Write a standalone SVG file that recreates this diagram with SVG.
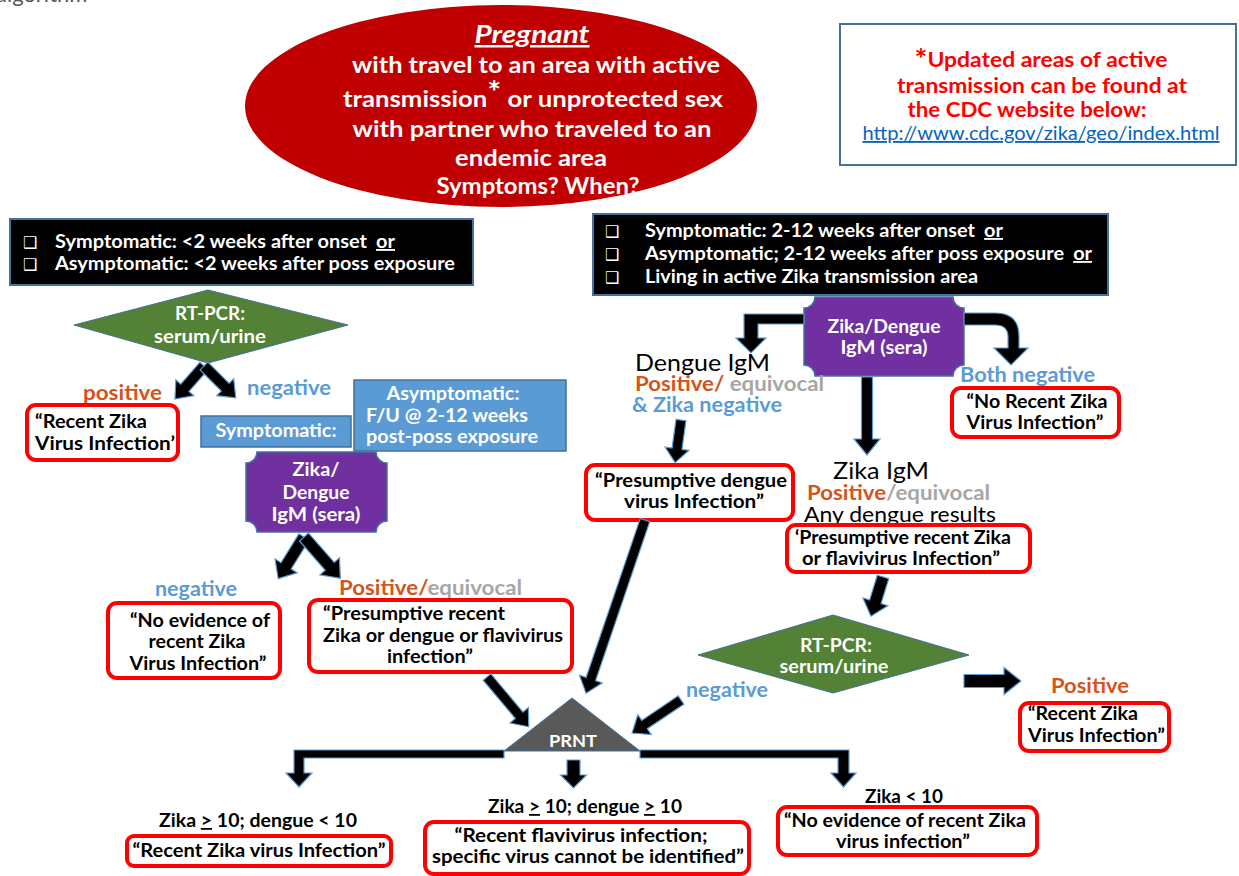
<svg xmlns="http://www.w3.org/2000/svg" width="1239" height="876" viewBox="0 0 1239 876">
<style>
text{font-family:Lato,"Liberation Sans",sans-serif;}
.w{fill:#fff;font-weight:bold;}
.k{fill:#000;font-weight:bold;}
.c{text-anchor:middle;}
.redbox{fill:#fff;stroke:#ff0000;stroke-width:4;}
.blk{fill:#000;stroke:#41719C;stroke-width:2;}
.blue{fill:#5B9BD5;stroke:#41719C;stroke-width:1.5;}
.purp{fill:#7030A0;stroke:#41719C;stroke-width:1.5;}
.grn{fill:#538135;stroke:#41719C;stroke-width:1;}
.arr{fill:#000;stroke:#5B9BD5;stroke-width:1.2;}
.lblue{fill:#5B9BD5;font-weight:bold;}
.lor{fill:#D4541B;font-weight:bold;}
.lgr{fill:#A6A6A6;font-weight:bold;}
.cb{font-family:"DejaVu Sans",sans-serif;fill:#fff;font-size:16px;}
</style>
<rect width="1239" height="876" fill="#fff"/>
<text x="-4" y="2" font-size="22" fill="#555" font-family="Open Sans,sans-serif">algorithm</text>

<g id="start">
<ellipse cx="501" cy="106" rx="256" ry="101" fill="#C00000"/>
<text class="w c" x="532" y="43" font-size="25" font-style="italic" text-decoration="underline" textLength="115" lengthAdjust="spacingAndGlyphs">Pregnant</text>
<text class="w c" x="536" y="73" font-size="23.5" textLength="368" lengthAdjust="spacingAndGlyphs">with travel to an area with active</text>
<text class="w c" x="533" y="107" font-size="23.5" textLength="380" lengthAdjust="spacingAndGlyphs">transmission<tspan font-size="30" dy="-4">*</tspan><tspan dy="4"> or unprotected sex</tspan></text>
<text class="w c" x="532" y="137" font-size="23.5" textLength="359" lengthAdjust="spacingAndGlyphs">with partner who traveled to an</text>
<text class="w c" x="531" y="166" font-size="23.5" textLength="152" lengthAdjust="spacingAndGlyphs">endemic area</text>
<text class="w c" x="538" y="194" font-size="23.5" textLength="203" lengthAdjust="spacingAndGlyphs">Symptoms? When?</text>
</g>

<g id="note">
<rect x="840" y="24" width="396" height="141" fill="#fff" stroke="#41719C" stroke-width="2"/>
<text class="c" x="1041" y="67" font-size="21" fill="#ff0000" font-weight="bold" textLength="253" lengthAdjust="spacingAndGlyphs"><tspan font-size="28" dy="2">*</tspan><tspan dy="-2">Updated areas of active</tspan></text>
<text class="c" x="1042" y="93" font-size="21" fill="#ff0000" font-weight="bold" textLength="290" lengthAdjust="spacingAndGlyphs">transmission can be found at</text>
<text class="c" x="1027" y="117" font-size="21" fill="#ff0000" font-weight="bold" textLength="239" lengthAdjust="spacingAndGlyphs">the CDC website below:</text>
<text class="c" x="1041" y="140" font-size="18.5" fill="#0563C1" text-decoration="underline" textLength="357" lengthAdjust="spacingAndGlyphs">http://www.cdc.gov/zika/geo/index.html</text>
</g>

<g id="early">
<rect class="blk" x="10" y="219" width="463" height="66"/>
<text class="cb" x="23" y="248">❑</text>
<text class="cb" x="23" y="270">❑</text>
<text class="w" x="55" y="248" font-size="18.5" textLength="340" lengthAdjust="spacingAndGlyphs">Symptomatic: &lt;2 weeks after onset <tspan dx="4" text-decoration="underline">or</tspan></text>
<text class="w" x="55" y="270" font-size="18.5" textLength="400" lengthAdjust="spacingAndGlyphs">Asymptomatic: &lt;2 weeks after poss exposure</text>
</g>

<g id="late">
<rect class="blk" x="593" y="214" width="515" height="81"/>
<text class="cb" x="605" y="237">❑</text>
<text class="cb" x="605" y="260">❑</text>
<text class="cb" x="605" y="283">❑</text>
<text class="w" x="645" y="237" font-size="18.5" textLength="358" lengthAdjust="spacingAndGlyphs">Symptomatic: 2-12 weeks after onset <tspan dx="4" text-decoration="underline">or</tspan></text>
<text class="w" x="645" y="260" font-size="18.5" textLength="447" lengthAdjust="spacingAndGlyphs">Asymptomatic; 2-12 weeks after poss exposure <tspan dx="4" text-decoration="underline">or</tspan></text>
<text class="w" x="645" y="283" font-size="18.5" textLength="333" lengthAdjust="spacingAndGlyphs">Living in active Zika transmission area</text>
</g>

<g id="rtpcr1">
<polygon class="grn" points="74,325 208,290 348,325 208,363"/>
<text class="w c" x="210" y="320" font-size="18" textLength="70" lengthAdjust="spacingAndGlyphs">RT-PCR:</text>
<text class="w c" x="210" y="343" font-size="18.5" textLength="112" lengthAdjust="spacingAndGlyphs">serum/urine</text>
</g>

<g id="labels-left">
<text class="lor" x="83" y="400" font-size="20.5" textLength="79" lengthAdjust="spacingAndGlyphs">positive</text>
<text class="lblue" x="247" y="395" font-size="20.5" textLength="84" lengthAdjust="spacingAndGlyphs">negative</text>
<text class="lblue" x="155" y="596" font-size="20.5" textLength="82" lengthAdjust="spacingAndGlyphs">negative</text>
<text x="339" y="595" font-size="20.5" textLength="183" lengthAdjust="spacingAndGlyphs"><tspan class="lor">Positive/</tspan><tspan class="lgr">equivocal</tspan></text>
</g>

<g id="res-recent1">
<rect class="redbox" x="27" y="405" width="151" height="55" rx="9"/>
<text class="k" x="35" y="428" font-size="19" textLength="112" lengthAdjust="spacingAndGlyphs">“Recent Zika</text>
<text class="k" x="35" y="450" font-size="19" textLength="140" lengthAdjust="spacingAndGlyphs">Virus Infection’</text>
</g>

<g id="symp">
<rect class="blue" x="201" y="416" width="150" height="31"/>
<text class="w c" x="276" y="437" font-size="18.5" textLength="121" lengthAdjust="spacingAndGlyphs">Symptomatic:</text>
</g>

<g id="asymp">
<rect class="blue" x="354" y="380" width="212" height="71"/>
<text class="w c" x="453" y="400" font-size="18.5" textLength="133" lengthAdjust="spacingAndGlyphs">Asymptomatic:</text>
<text class="w" x="366" y="422" font-size="18.5" textLength="162" lengthAdjust="spacingAndGlyphs">F/U @ 2-12 weeks</text>
<text class="w" x="366" y="443" font-size="18.5" textLength="172" lengthAdjust="spacingAndGlyphs">post-poss exposure</text>
</g>

<g id="igm1">
<path class="purp" d="M257,452 L376,452 A11,11 0 0 0 387,463 L387,521 A11,11 0 0 0 376,532 L257,532 A11,11 0 0 0 246,521 L246,463 A11,11 0 0 0 257,452 Z"/>
<text class="w c" x="316" y="476" font-size="19" textLength="47" lengthAdjust="spacingAndGlyphs">Zika/</text>
<text class="w c" x="316" y="499" font-size="19" textLength="67" lengthAdjust="spacingAndGlyphs">Dengue</text>
<text class="w c" x="316" y="521" font-size="19" textLength="89" lengthAdjust="spacingAndGlyphs">IgM (sera)</text>
</g>

<g id="res-noevid1">
<rect class="redbox" x="108" y="603" width="172" height="75" rx="9"/>
<text class="k c" x="200" y="627" font-size="19" textLength="140" lengthAdjust="spacingAndGlyphs">“No evidence of</text>
<text class="k c" x="197" y="648" font-size="19" textLength="97" lengthAdjust="spacingAndGlyphs">recent Zika</text>
<text class="k c" x="198" y="670" font-size="19" textLength="137" lengthAdjust="spacingAndGlyphs">Virus Infection”</text>
</g>

<g id="res-presump1">
<rect class="redbox" x="309" y="600" width="263" height="72" rx="9"/>
<text class="k" x="323" y="620" font-size="19" textLength="182" lengthAdjust="spacingAndGlyphs">“Presumptive recent</text>
<text class="k" x="323" y="642" font-size="19" textLength="240" lengthAdjust="spacingAndGlyphs">Zika or dengue or flavivirus</text>
<text class="k c" x="430" y="663" font-size="19" textLength="86" lengthAdjust="spacingAndGlyphs">infection”</text>
</g>

<g id="igm2">
<path class="purp" d="M815,297 L953,297 A11,11 0 0 0 964,308 L964,365 A11,11 0 0 0 953,376 L815,376 A11,11 0 0 0 804,365 L804,308 A11,11 0 0 0 815,297 Z"/>
<text class="w c" x="884" y="333" font-size="18.5" textLength="113" lengthAdjust="spacingAndGlyphs">Zika/Dengue</text>
<text class="w c" x="884" y="354" font-size="18.5" textLength="87" lengthAdjust="spacingAndGlyphs">IgM (sera)</text>
</g>

<g id="labels-right">
<text x="635" y="371" font-size="22.5" fill="#000" textLength="135" lengthAdjust="spacingAndGlyphs">Dengue IgM</text>
<text x="635" y="391" font-size="20" textLength="189" lengthAdjust="spacingAndGlyphs"><tspan class="lor">Positive/</tspan><tspan class="lgr"> equivocal</tspan></text>
<text class="lblue" x="632" y="412" font-size="20" textLength="150" lengthAdjust="spacingAndGlyphs">&amp; Zika negative</text>
<text class="lblue" x="960" y="382" font-size="20.5" textLength="135" lengthAdjust="spacingAndGlyphs">Both negative</text>
<text x="833" y="479" font-size="22.5" fill="#000" textLength="96" lengthAdjust="spacingAndGlyphs">Zika IgM</text>
<text x="807" y="500" font-size="20" textLength="183" lengthAdjust="spacingAndGlyphs"><tspan class="lor">Positive</tspan><tspan class="lgr">/equivocal</tspan></text>
<text x="804" y="522" font-size="21" fill="#000" textLength="192" lengthAdjust="spacingAndGlyphs">Any dengue results</text>
<text class="lblue" x="686" y="697" font-size="20" textLength="82" lengthAdjust="spacingAndGlyphs">negative</text>
<text class="lor" x="1051" y="693" font-size="20.5" textLength="78" lengthAdjust="spacingAndGlyphs">Positive</text>
</g>

<g id="res-dengue">
<rect class="redbox" x="586" y="465" width="207" height="55" rx="9"/>
<text class="k c" x="691" y="487" font-size="19" textLength="192" lengthAdjust="spacingAndGlyphs">“Presumptive dengue</text>
<text class="k c" x="694" y="508" font-size="19" textLength="140" lengthAdjust="spacingAndGlyphs">virus Infection”</text>
</g>

<g id="res-norecent">
<rect class="redbox" x="952" y="388" width="167" height="49" rx="9"/>
<text class="k c" x="1037" y="408" font-size="19" textLength="141" lengthAdjust="spacingAndGlyphs">“No Recent Zika</text>
<text class="k c" x="1035" y="429" font-size="19" textLength="137" lengthAdjust="spacingAndGlyphs">Virus Infection”</text>
</g>

<g id="res-presump2">
<rect class="redbox" x="787" y="525" width="243" height="47" rx="9"/>
<text class="k c" x="903" y="544" font-size="19" textLength="216" lengthAdjust="spacingAndGlyphs">‘Presumptive recent Zika</text>
<text class="k c" x="901" y="565" font-size="19" textLength="198" lengthAdjust="spacingAndGlyphs">or flavivirus Infection”</text>
</g>

<g id="rtpcr2">
<polygon class="grn" points="698,655 833,615 969,655 833,693"/>
<text class="w c" x="836" y="652" font-size="18" textLength="72" lengthAdjust="spacingAndGlyphs">RT-PCR:</text>
<text class="w c" x="834" y="673" font-size="18.5" textLength="109" lengthAdjust="spacingAndGlyphs">serum/urine</text>
</g>

<g id="res-recent2">
<rect class="redbox" x="1020" y="703" width="149" height="48" rx="9"/>
<text class="k" x="1028" y="720" font-size="19" textLength="110" lengthAdjust="spacingAndGlyphs">“Recent Zika</text>
<text class="k" x="1028" y="742" font-size="19" textLength="137" lengthAdjust="spacingAndGlyphs">Virus Infection”</text>
</g>

<g id="prnt">
<polygon points="572,698 504,751 640,751" fill="#595959" stroke="#41719C" stroke-width="1"/>
<text class="w c" x="573" y="747" font-size="17" textLength="48" lengthAdjust="spacingAndGlyphs">PRNT</text>
</g>

<g id="outcomes">
<text class="k c" x="258" y="827" font-size="18" textLength="198" lengthAdjust="spacingAndGlyphs">Zika <tspan text-decoration="underline">&gt;</tspan> 10; dengue &lt; 10</text>
<rect class="redbox" x="127" y="836" width="264" height="30" rx="7"/>
<text class="k c" x="259" y="857" font-size="19" textLength="253" lengthAdjust="spacingAndGlyphs">“Recent Zika virus Infection”</text>
<text class="k c" x="585" y="813" font-size="18" textLength="194" lengthAdjust="spacingAndGlyphs">Zika <tspan text-decoration="underline">&gt;</tspan> 10; dengue <tspan text-decoration="underline">&gt;</tspan> 10</text>
<rect class="redbox" x="425" y="822" width="324" height="52" rx="9"/>
<text class="k c" x="581" y="842" font-size="19" textLength="253" lengthAdjust="spacingAndGlyphs">“Recent flavivirus infection;</text>
<text class="k c" x="588" y="863" font-size="19" textLength="312" lengthAdjust="spacingAndGlyphs">specific virus cannot be identified”</text>
<text class="k c" x="904" y="803" font-size="18" textLength="78" lengthAdjust="spacingAndGlyphs">Zika &lt; 10</text>
<rect class="redbox" x="778" y="807" width="259" height="48" rx="9"/>
<text class="k c" x="905" y="827" font-size="19" textLength="242" lengthAdjust="spacingAndGlyphs">“No evidence of recent Zika</text>
<text class="k c" x="903" y="848" font-size="19" textLength="134" lengthAdjust="spacingAndGlyphs">virus infection”</text>
</g>

<g id="connectors">
<path class="arr" transform="translate(204,366) rotate(131.3)" d="M0,-5.5 H29 V-12 L44,0 L29,12 V5.5 H0 Z"/>
<path class="arr" transform="translate(204,366) rotate(45)" d="M0,-5.5 H30 V-12 L45,0 L30,12 V5.5 H0 Z"/>
<path class="arr" transform="translate(304,537) rotate(121.8)" d="M0,-6 H34 V-13 L49,0 L34,13 V6 H0 Z"/>
<path class="arr" transform="translate(304,537) rotate(48.7)" d="M0,-6 H39 V-13 L55,0 L39,13 V6 H0 Z"/>
<path class="arr" transform="translate(487,677) rotate(50)" d="M0,-5 H50 V-12 L65,0 L50,12 V5 H0 Z"/>
<path class="arr" transform="translate(645,520) rotate(108.8)" d="M0,-5 H168 V-12 L183,0 L168,12 V5 H0 Z"/>
<path class="arr" transform="translate(681,700) rotate(146)" d="M0,-5 H44 V-12 L59,0 L44,12 V5 H0 Z"/>
<path class="arr" transform="translate(681,420) rotate(97.9)" d="M0,-5 H29 V-12 L43,0 L29,12 V5 H0 Z"/>
<path class="arr" transform="translate(867,377) rotate(90)" d="M0,-5.5 H62 V-13 L78,0 L62,13 V5.5 H0 Z"/>
<path class="arr" transform="translate(883,577) rotate(107.1)" d="M0,-6 H26 V-13 L41,0 L26,13 V6 H0 Z"/>
<path class="arr" transform="translate(964,681)" d="M0,-6.5 H40 V-13.5 L57,0 L40,13.5 V6.5 H0 Z"/>
<path class="arr" transform="translate(573.5,760) rotate(90)" d="M0,-6.5 H15 V-13 L28,0 L15,13 V6.5 H0 Z"/>
<path class="arr" d="M504,750 L294,750 L294,773 L286,773 L299,787 L312,773 L304,773 L304,758 L504,758 Z"/>
<path class="arr" d="M640,750 L849,750 L849,773 L856,773 L843.5,787 L831,773 L838,773 L838,758 L640,758 Z"/>
<path class="arr" d="M804,314 L744,314 L744,338 L736,338 L751,353 L766,338 L758,338 L758,324 L804,324 Z"/>
<path class="arr" d="M964,313 L995,313 Q1019,313 1019,336 L1019,348 L1028,348 L1011,365 L994,348 L1008,348 L1008,337 Q1008,325 995,325 L964,325 Z"/>
</g>
</svg>
